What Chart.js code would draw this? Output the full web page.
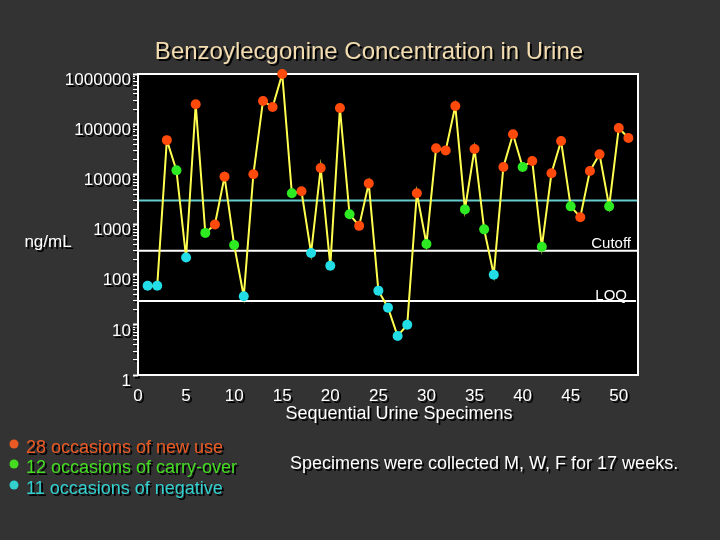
<!DOCTYPE html>
<html>
<head>
<meta charset="utf-8">
<script src="https://cdn.jsdelivr.net/npm/chart.js@4.4.1/dist/chart.umd.min.js"></script>
<style>
  html, body { margin: 0; padding: 0; background: #333333; }
  #wrap { width: 720px; height: 540px; }
</style>
</head>
<body>
<div id="wrap"><canvas id="urineChart" width="720" height="540"></canvas></div>
<script>
// benzoylecgonine, ng/mL, specimens 1..51
const concentration = [
  60, 60, 48000, 12000, 220, 250000, 680, 1000, 9000, 390,
  37, 10000, 290000, 220000, 1000000, 4200, 4600, 270, 13400, 150,
  210000, 1600, 940, 6600, 48, 22, 6, 10, 4200, 410,
  33000, 30000, 230000, 2000, 32000, 800, 100, 14000, 63000, 14000,
  18500, 360, 10500, 46000, 2300, 1400, 11700, 25000, 2300, 84000, 53000
];
// N = new use, C = carry-over, X = negative
const status = ('XXNCXNCNNC' + 'XNNNNCNXNX' + 'NCNNXXXXNC' + 'NNNCNCXNNC' + 'NCNNCNNNCNN').split('');

const statusColor = { N: '#ff4a0c', C: '#2eea22', X: '#22dde6' };
const legendLabels = ['28 occasions of new use', '12 occasions of carry-over', '11 occasions of negative'];
const legendColors = ['#ec5a24', '#44dd22', '#33d0d0'];

const xTicks = [0, 5, 10, 15, 20, 25, 30, 35, 40, 45, 50];
const yLabels = [1, 10, 100, 1000, 10000, 100000, 1000000];

const refLine = 3000;
const cutoff = 300;
const loq = 30;

const FONT = "'Liberation Sans', Arial, sans-serif";

function setShadow(ctx) {
  ctx.shadowColor = '#000';
  ctx.shadowOffsetX = 2;
  ctx.shadowOffsetY = 2;
  ctx.shadowBlur = 0;
}
function clearShadow(ctx) {
  ctx.shadowColor = 'rgba(0,0,0,0)';
  ctx.shadowOffsetX = 0;
  ctx.shadowOffsetY = 0;
}

const decor = {
  id: 'decor',
  beforeDraw(chart) {
    const { ctx, chartArea: a } = chart;
    ctx.save();
    ctx.fillStyle = '#333333';
    ctx.fillRect(0, 0, chart.width, chart.height);
    ctx.fillStyle = '#000';
    ctx.fillRect(a.left, a.top, a.right - a.left, a.bottom - a.top);
    ctx.restore();
    setShadow(ctx); // tick labels get a drop shadow
  },
  beforeDatasetsDraw(chart) {
    const { ctx, chartArea: a } = chart;
    const y = chart.scales.y;
    clearShadow(ctx);
    ctx.save();
    ctx.lineWidth = 2;

    const hline = (val, color, x2) => {
      const py = y.getPixelForValue(val);
      ctx.strokeStyle = color;
      ctx.beginPath();
      ctx.moveTo(a.left, py);
      ctx.lineTo(x2, py);
      ctx.stroke();
      return py;
    };
    hline(refLine, '#66cccc', a.right);
    const pc = hline(cutoff, '#ffffff', a.right);
    const pl = hline(loq, '#ffffff', a.right - 2);

    ctx.fillStyle = '#fff';
    ctx.font = '15px ' + FONT;
    ctx.textAlign = 'right';
    ctx.textBaseline = 'alphabetic';
    ctx.fillText('Cutoff', a.right - 7, pc - 3);
    ctx.fillText('LOQ', a.right - 11, pl - 1);

    ctx.strokeStyle = '#fff';
    ctx.strokeRect(a.left, a.top, a.right - a.left, a.bottom - a.top);
    ctx.restore();
  },
  afterDraw(chart) {
    const ctx = chart.ctx;
    ctx.save();
    setShadow(ctx);
    ctx.textBaseline = 'middle';

    ctx.textAlign = 'center';
    ctx.fillStyle = '#f2dcb0';
    ctx.font = '24px ' + FONT;
    ctx.fillText('Benzoylecgonine Concentration in Urine', 369, 52);

    ctx.fillStyle = '#fff';
    ctx.font = '17px ' + FONT;
    ctx.fillText('ng/mL', 48, 242);

    ctx.font = '18px ' + FONT;
    ctx.fillText('Sequential Urine Specimens', 399, 414);

    ctx.textAlign = 'left';
    ctx.fillText('Specimens were collected M, W, F for 17 weeks.', 290, 464);

    const rows = [448, 468, 489];
    legendLabels.forEach((txt, i) => {
      ctx.fillStyle = legendColors[i];
      ctx.fillText(txt, 26, rows[i]);
    });
    clearShadow(ctx);
    legendLabels.forEach((txt, i) => {
      ctx.fillStyle = legendColors[i];
      ctx.beginPath();
      ctx.arc(14, rows[i] - 4, 4.5, 0, Math.PI * 2);
      ctx.fill();
    });
    ctx.restore();
  }
};

const points = concentration.map((v, i) => ({ x: i + 1, y: v }));

new Chart(document.getElementById('urineChart'), {
  type: 'line',
  data: {
    datasets: [{
      data: points,
      borderColor: '#ffff50',
      borderWidth: 2,
      tension: 0,
      pointRadius: 5,
      pointHoverRadius: 5,
      pointBorderWidth: 0,
      pointBackgroundColor: status.map(s => statusColor[s]),
      clip: false
    }]
  },
  options: {
    responsive: false,
    animation: false,
    devicePixelRatio: 1,
    layout: { padding: { top: 74, right: 82, bottom: 0, left: 0 } },
    plugins: {
      legend: { display: false },
      tooltip: { enabled: false }
    },
    scales: {
      x: {
        type: 'linear',
        min: 0,
        max: 52,
        afterBuildTicks: s => { s.ticks = xTicks.map(v => ({ value: v })); },
        afterFit: s => { s.height = 165; },
        border: { display: false },
        grid: { drawOnChartArea: false, tickLength: 4, tickColor: 'rgba(0,0,0,0)' },
        ticks: {
          color: '#fff',
          font: { family: FONT, size: 17 },
          padding: 7,
          maxRotation: 0,
          autoSkip: false,
          callback: v => String(v)
        }
      },
      y: {
        type: 'logarithmic',
        min: 1,
        max: 1000000,
        afterBuildTicks: s => {
          const t = [];
          for (let k = 0; k < yLabels.length - 1; k++) {
            for (let m = 1; m <= 9; m++) t.push({ value: yLabels[k] * m });
          }
          t.push({ value: yLabels[yLabels.length - 1] });
          s.ticks = t;
        },
        afterFit: s => { s.width = 138; },
        border: { display: false },
        grid: {
          drawOnChartArea: false,
          tickLength: 5,
          tickColor: '#fff',
          tickWidth: c => (c.tick && yLabels.includes(c.tick.value) ? 2 : 1)
        },
        ticks: {
          color: '#fff',
          font: { family: FONT, size: 17 },
          padding: 2,
          labelOffset: 6,
          autoSkip: false,
          callback: v => (yLabels.includes(v) ? String(v) : '')
        }
      }
    }
  },
  plugins: [decor]
});
</script>
</body>
</html>
